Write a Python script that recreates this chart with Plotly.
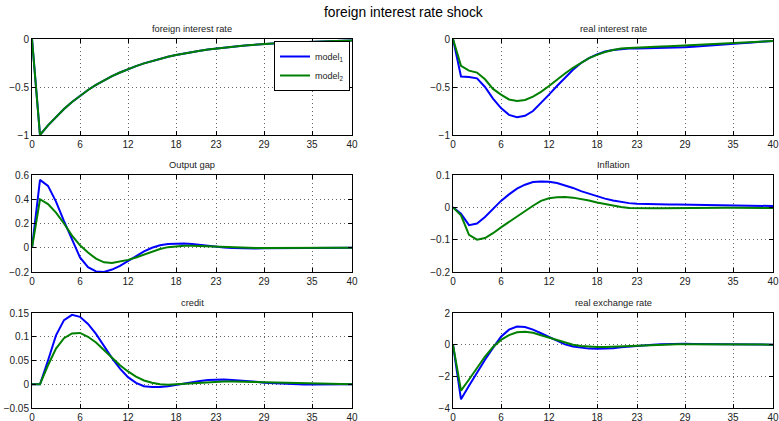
import plotly.graph_objects as go

t = list(range(41))

foreign_rate_m1 = [0, -1, -0.9, -0.81, -0.729, -0.656, -0.59, -0.531, -0.478, -0.43, -0.387,
                   -0.349, -0.314, -0.282, -0.254, -0.229, -0.206, -0.185, -0.167, -0.15, -0.135,
                   -0.122, -0.109, -0.098, -0.089, -0.08, -0.072, -0.065, -0.058, -0.052, -0.047,
                   -0.042, -0.038, -0.034, -0.031, -0.028, -0.025, -0.023, -0.02, -0.018, -0.016]
foreign_rate_m2 = list(foreign_rate_m1)

real_rate_m1 = [0, -0.39, -0.395, -0.41, -0.5, -0.62, -0.72, -0.79, -0.815, -0.8, -0.75,
                -0.67, -0.58, -0.49, -0.4, -0.32, -0.25, -0.2, -0.16, -0.13, -0.115,
                -0.105, -0.1, -0.098, -0.097, -0.096, -0.094, -0.092, -0.089, -0.085, -0.081,
                -0.076, -0.07, -0.064, -0.058, -0.052, -0.045, -0.038, -0.032, -0.026, -0.02]
real_rate_m2 = [0, -0.28, -0.33, -0.35, -0.42, -0.52, -0.58, -0.63, -0.645, -0.635, -0.6,
                -0.55, -0.49, -0.42, -0.36, -0.3, -0.25, -0.2, -0.165, -0.135, -0.115,
                -0.1, -0.093, -0.088, -0.085, -0.082, -0.079, -0.076, -0.072, -0.068, -0.064,
                -0.06, -0.056, -0.052, -0.047, -0.042, -0.037, -0.032, -0.028, -0.024, -0.02]

output_gap_m1 = [0, 0.56, 0.51, 0.38, 0.22, 0.07, -0.08, -0.16, -0.195, -0.2, -0.18,
                 -0.15, -0.11, -0.07, -0.03, 0.0, 0.02, 0.03, 0.035, 0.035, 0.03,
                 0.022, 0.015, 0.008, 0.002, -0.002, -0.005, -0.006, -0.006, -0.005, -0.004,
                 -0.003, -0.002, -0.002, -0.001, -0.001, 0.0, 0.0, 0.0, 0.0, 0.0]
output_gap_m2 = [0, 0.4, 0.36, 0.29, 0.2, 0.1, 0.02, -0.04, -0.09, -0.12, -0.125,
                 -0.115, -0.1, -0.08, -0.055, -0.03, -0.01, 0.005, 0.013, 0.017, 0.017,
                 0.014, 0.01, 0.006, 0.003, 0.0, -0.002, -0.003, -0.003, -0.003, -0.002,
                 -0.002, -0.001, -0.001, -0.001, 0.0, 0.0, 0.0, 0.0, 0.0, 0.0]

inflation_m1 = [0, -0.02, -0.055, -0.05, -0.03, -0.005, 0.02, 0.04, 0.058, 0.07, 0.078,
                0.08, 0.079, 0.075, 0.068, 0.06, 0.05, 0.042, 0.034, 0.027, 0.021,
                0.016, 0.013, 0.011, 0.01, 0.0095, 0.009, 0.009, 0.009, 0.0085, 0.008,
                0.0075, 0.007, 0.0068, 0.0065, 0.006, 0.0055, 0.005, 0.0047, 0.0043, 0.004]
inflation_m2 = [0, -0.025, -0.085, -0.1, -0.095, -0.08, -0.062, -0.045, -0.028, -0.012, 0.005,
                0.02, 0.028, 0.031, 0.032, 0.03, 0.026, 0.021, 0.015, 0.01, 0.005,
                0.001, -0.002, -0.003, -0.003, -0.003, -0.003, -0.0025, -0.002, -0.002, -0.002,
                -0.0015, -0.0015, -0.001, -0.001, -0.001, -0.001, -0.0015, -0.0015, -0.002, -0.002]

credit_m1 = [0, 0, 0.05, 0.103, 0.135, 0.146, 0.142, 0.127, 0.106, 0.08, 0.055,
             0.033, 0.015, 0.003, -0.004, -0.006, -0.006, -0.004, -0.001, 0.002, 0.005,
             0.007, 0.009, 0.01, 0.01, 0.009, 0.008, 0.006, 0.005, 0.003, 0.002,
             0.001, 0.0, 0.0, -0.0005, -0.0005, -0.0005, 0.0, 0.0, 0.0, 0.0]
credit_m2 = [0, 0, 0.04, 0.075, 0.097, 0.107, 0.108, 0.1, 0.088, 0.072, 0.055,
             0.04, 0.027, 0.016, 0.008, 0.003, 0.0, -0.001, 0.0, 0.001, 0.003,
             0.004, 0.005, 0.006, 0.006, 0.006, 0.0055, 0.005, 0.0045, 0.004, 0.0035,
             0.003, 0.0025, 0.002, 0.0015, 0.001, 0.0008, 0.0006, 0.0004, 0.0002, 0.0]

rer_m1 = [0, -3.45, -2.6, -1.75, -0.95, -0.2, 0.5, 0.95, 1.15, 1.12, 0.95,
          0.72, 0.47, 0.22, 0.02, -0.12, -0.2, -0.25, -0.26, -0.25, -0.22,
          -0.17, -0.12, -0.07, -0.03, 0.0, 0.02, 0.04, 0.05, 0.05, 0.048,
          0.045, 0.04, 0.035, 0.03, 0.02, 0.015, 0.01, 0.005, 0.002, 0.0]
rer_m2 = [0, -2.9, -2.2, -1.45, -0.75, -0.15, 0.3, 0.6, 0.78, 0.82, 0.75,
          0.6, 0.45, 0.28, 0.12, 0.0, -0.08, -0.12, -0.14, -0.14, -0.12,
          -0.09, -0.06, -0.03, -0.01, 0.01, 0.02, 0.025, 0.03, 0.03, 0.028,
          0.025, 0.022, 0.018, 0.014, 0.01, 0.007, 0.005, 0.003, 0.001, 0.0]

panel_titles = ["foreign interest rate", "real interest rate", "Output gap",
                "Inflation", "credit", "real exchange rate"]
series_m1 = [foreign_rate_m1, real_rate_m1, output_gap_m1, inflation_m1, credit_m1, rer_m1]
series_m2 = [foreign_rate_m2, real_rate_m2, output_gap_m2, inflation_m2, credit_m2, rer_m2]
y_ranges = [[-1, 0], [-1, 0], [-0.2, 0.6], [-0.2, 0.1], [-0.05, 0.15], [-4, 2]]
y_ticks = [[-1, -0.5, 0], [-1, -0.5, 0], [-0.2, 0, 0.2, 0.4, 0.6], [-0.2, -0.1, 0, 0.1],
           [-0.05, 0, 0.05, 0.1, 0.15], [-4, -2, 0, 2]]
y_ticktext = [["\u22121", "\u22120.5", "0"], ["\u22121", "\u22120.5", "0"],
              ["\u22120.2", "0", "0.2", "0.4", "0.6"], ["\u22120.2", "\u22120.1", "0", "0.1"],
              ["\u22120.05", "0", "0.05", "0.1", "0.15"], ["\u22124", "\u22122", "0", "2"]]
x_ticks = [0, 6, 12, 18, 23, 29, 35, 40]
legend_names = ["model<sub>1</sub>", "model<sub>2</sub>"]
colors = ["#0000FF", "#008000"]

W, H = 779, 421
x_dom_px = [(32, 352), (453, 773)]
y_dom_px = [(39, 135), (175, 272), (313, 408)]

FONT = "Liberation Sans, Arial, Helvetica, sans-serif"

fig = go.Figure()
layout = {}
annotations = []
for i in range(6):
    r, c = divmod(i, 2)
    n = i + 1
    xa = "x" if n == 1 else f"x{n}"
    ya = "y" if n == 1 else f"y{n}"
    for k, (ser, name) in enumerate([(series_m1[i], legend_names[0]), (series_m2[i], legend_names[1])]):
        fig.add_trace(go.Scatter(x=t, y=ser, mode="lines", name=name,
                                 line=dict(color=colors[k], width=2),
                                 xaxis=xa, yaxis=ya, showlegend=(i == 0)))
    x0, x1 = x_dom_px[c]
    y0, y1 = y_dom_px[r]
    common = dict(showline=True, linecolor="black", linewidth=1, mirror="ticks",
                  ticks="inside", ticklen=4, tickcolor="black", automargin=False,
                  showgrid=True, gridcolor="#666666", griddash="1px,3px", gridwidth=1,
                  zeroline=False, tickfont=dict(size=10, color="#222", family=FONT))
    layout["xaxis" if n == 1 else f"xaxis{n}"] = dict(
        domain=[x0 / W, x1 / W], range=[0, 40], tickvals=x_ticks, anchor=ya, **common)
    layout["yaxis" if n == 1 else f"yaxis{n}"] = dict(
        domain=[1 - y1 / H, 1 - y0 / H], range=y_ranges[i], tickvals=y_ticks[i],
        ticktext=y_ticktext[i], anchor=xa, **common)
    annotations.append(dict(text=panel_titles[i], x=(x0 + x1) / 2 / W, y=1 - (y0 - 10) / H,
                            xref="paper", yref="paper", xanchor="center", yanchor="middle",
                            showarrow=False, font=dict(size=9.3, color="#222", family=FONT)))

annotations.append(dict(text="foreign interest rate shock", x=403 / W, y=1 - 13 / H,
                        xref="paper", yref="paper", xanchor="center", yanchor="middle",
                        showarrow=False, font=dict(size=13.8, color="black", family=FONT)))

fig.update_layout(**layout)
fig.update_layout(
    width=W, height=H, margin=dict(l=0, r=0, t=0, b=0, autoexpand=False),
    paper_bgcolor="white", plot_bgcolor="white",
    annotations=annotations,
    font=dict(family=FONT, size=10, color="#222"),
    legend=dict(x=350 / W, y=1 - 41 / H, xanchor="right", yanchor="top",
                bgcolor="white", bordercolor="black", borderwidth=1,
                font=dict(size=9, color="#222", family=FONT),
                tracegroupgap=0, itemwidth=30),
)

fig.write_html("out.html", config={"displayModeBar": False},
               post_script="document.body.style.margin='0';")
